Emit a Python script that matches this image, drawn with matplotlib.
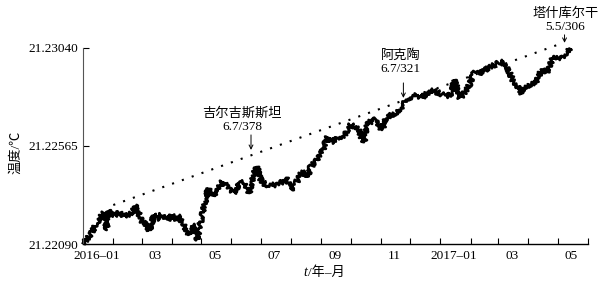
import datetime as dt
import matplotlib
matplotlib.use("Agg")
import matplotlib.pyplot as plt

plt.rcParams['font.family'] = ['Liberation Serif', 'Noto Sans CJK SC']
plt.rcParams['font.size'] = 9.5

start = dt.datetime(2016, 1, 1)

# days since 2016-01-01 and temperature (degC)
days = [0, 4, 7, 11, 14, 17, 19, 23, 24, 26,
        28, 31, 35, 38, 42, 45, 48, 50, 53, 55,
        57, 60, 63, 67, 70, 72, 75, 77, 80, 82,
        85, 87, 91, 94, 96, 99, 101, 104, 106, 110,
        113, 115, 117, 119, 122, 125, 128, 131, 133, 136,
        138, 140, 143, 147, 150, 154, 158, 161, 164, 168,
        170, 173, 175, 178, 181, 184, 187, 191, 195, 199,
        202, 205, 208, 212, 214, 217, 220, 223, 227, 230,
        233, 238, 241, 244, 247, 249, 251, 254, 258, 263,
        268, 271, 274, 278, 282, 285, 288, 290, 294, 299,
        302, 306, 311, 316, 321, 327, 330, 333, 338, 342,
        347, 350, 355, 358, 362, 368, 371, 374, 378, 380,
        383, 386, 389, 393, 396, 399, 401, 406, 412, 417,
        422, 427, 430, 434, 437, 440, 444, 447, 449, 453,
        456, 461, 465, 468, 471, 475, 478, 481, 485, 488,
        491, 496, 498]
temps = [21.22095, 21.22109, 21.22134, 21.22163, 21.22192, 21.22216, 21.22231, 21.22245, 21.22158, 21.22255,
         21.22236, 21.22231, 21.22236, 21.22240, 21.22226, 21.22231, 21.22236, 21.22245, 21.22260, 21.22279,
         21.22240, 21.22197, 21.22192, 21.22158, 21.22172, 21.22231, 21.22216, 21.22216, 21.22231, 21.22221,
         21.22211, 21.22206, 21.22231, 21.22211, 21.22197, 21.22231, 21.22221, 21.22177, 21.22148, 21.22134,
         21.22172, 21.22182, 21.22109, 21.22168, 21.22226, 21.22294, 21.22357, 21.22337, 21.22318, 21.22342,
         21.22347, 21.22381, 21.22391, 21.22371, 21.22352, 21.22337, 21.22366, 21.22381, 21.22391, 21.22366,
         21.22337, 21.22391, 21.22434, 21.22468, 21.22410, 21.22386, 21.22381, 21.22371, 21.22376, 21.22381,
         21.22386, 21.22391, 21.22410, 21.22366, 21.22347, 21.22386, 21.22400, 21.22430, 21.22439, 21.22415,
         21.22463, 21.22488, 21.22512, 21.22531, 21.22556, 21.22599, 21.22609, 21.22585, 21.22594, 21.22604,
         21.22619, 21.22643, 21.22667, 21.22657, 21.22643, 21.22609, 21.22585, 21.22667, 21.22682, 21.22691,
         21.22677, 21.22643, 21.22706, 21.22716, 21.22730, 21.22754, 21.22784, 21.22798, 21.22803, 21.22813,
         21.22798, 21.22813, 21.22827, 21.22837, 21.22827, 21.22813, 21.22813, 21.22803, 21.22827, 21.22885,
         21.22847, 21.22798, 21.22813, 21.22837, 21.22866, 21.22910, 21.22924, 21.22919, 21.22934, 21.22948,
         21.22958, 21.22973, 21.22968, 21.22944, 21.22919, 21.22885, 21.22861, 21.22837, 21.22822, 21.22847,
         21.22861, 21.22871, 21.22885, 21.22919, 21.22934, 21.22924, 21.22948, 21.23002, 21.22997, 21.22982,
         21.22997, 21.23016, 21.23036]

# dotted upper trend line
trend_days = [31, 491]
trend_temps = [21.22279, 21.23064]

# earthquake marks
ann_labels = ["吉尔吉斯斯坦\n6.7/378", "阿克陶\n6.7/321", "塔什库尔干\n5.5/306"]
ann_days = [172, 328, 493]
ann_temps = [21.22546, 21.22798, 21.23065]

yticks = [21.22090, 21.22565, 21.23040]
month_labels = ["2016–01", "03", "05", "07", "09", "11", "2017–01", "03", "05"]

to_date = lambda d: start + dt.timedelta(days=d)

fig = plt.figure(figsize=(6.13, 2.87), dpi=100)
ax = fig.add_axes([0.1354, 0.1498, 0.8238, 0.683])

line, = ax.plot([to_date(d) for d in days], temps, color='black', lw=2.0, clip_on=False)
line.set_sketch_params(scale=2.5, length=1.5, randomness=2)
ax.plot([to_date(d) for d in trend_days], trend_temps, color='black', lw=1.5,
        linestyle=(0, (1, 4)), clip_on=False)

arrow_len = [15, 15, 8]
text_off = [(-9, 17), (-3, 23), (1, 10)]
for lab, d, t, al, (dx, dy) in zip(ann_labels, ann_days, ann_temps, arrow_len, text_off):
    ax.annotate('', xy=(to_date(d), t), xytext=(0, al * 0.72), textcoords='offset points',
                annotation_clip=False,
                arrowprops=dict(arrowstyle='->', color='black', lw=0.7,
                                shrinkA=0, shrinkB=0, mutation_scale=7))
    ax.annotate(lab, xy=(to_date(d), t), xytext=(dx * 0.72, dy * 0.72),
                textcoords='offset points', ha='center', va='bottom',
                annotation_clip=False, linespacing=1.15, fontsize=9.5)

# month boundaries as ticks, labels centred on odd months
month_starts = [dt.datetime(2016 + (m // 12), m % 12 + 1, 1) for m in range(18)]
label_pos = [dt.datetime(2016 + (m // 12), m % 12 + 1, 15) for m in range(0, 17, 2)]
ax.set_xticks(month_starts)
ax.set_xticklabels([])
ax.set_xticks(label_pos, minor=True)
ax.set_xticklabels(month_labels, minor=True)
ax.tick_params(axis='x', which='major', direction='in', length=4, width=0.8)
ax.tick_params(axis='x', which='minor', length=0, pad=4)
ax.set_xlim(month_starts[0], month_starts[-1])

ax.set_ylim(yticks[0], yticks[-1])
ax.set_yticks(yticks)
ax.set_yticklabels([f"{v:.5f}" for v in yticks])
ax.tick_params(axis='y', direction='in', length=4, width=0.8, pad=3.5)

ax.spines['top'].set_visible(False)
ax.spines['right'].set_visible(False)
ax.spines['left'].set_color('#555555')
ax.spines['bottom'].set_linewidth(1.0)

# x label: italic t followed by unit text
ax.text(0.445, -0.112, "t", transform=ax.transAxes, ha='right', va='top',
        fontstyle='italic', fontsize=10)
ax.text(0.445, -0.112, "/年–月", transform=ax.transAxes, ha='left', va='top', fontsize=9.5)
ax.set_ylabel("温度/℃")
ax.yaxis.set_label_coords(-0.12, 0.47)

fig.savefig("out.png", dpi=100)
